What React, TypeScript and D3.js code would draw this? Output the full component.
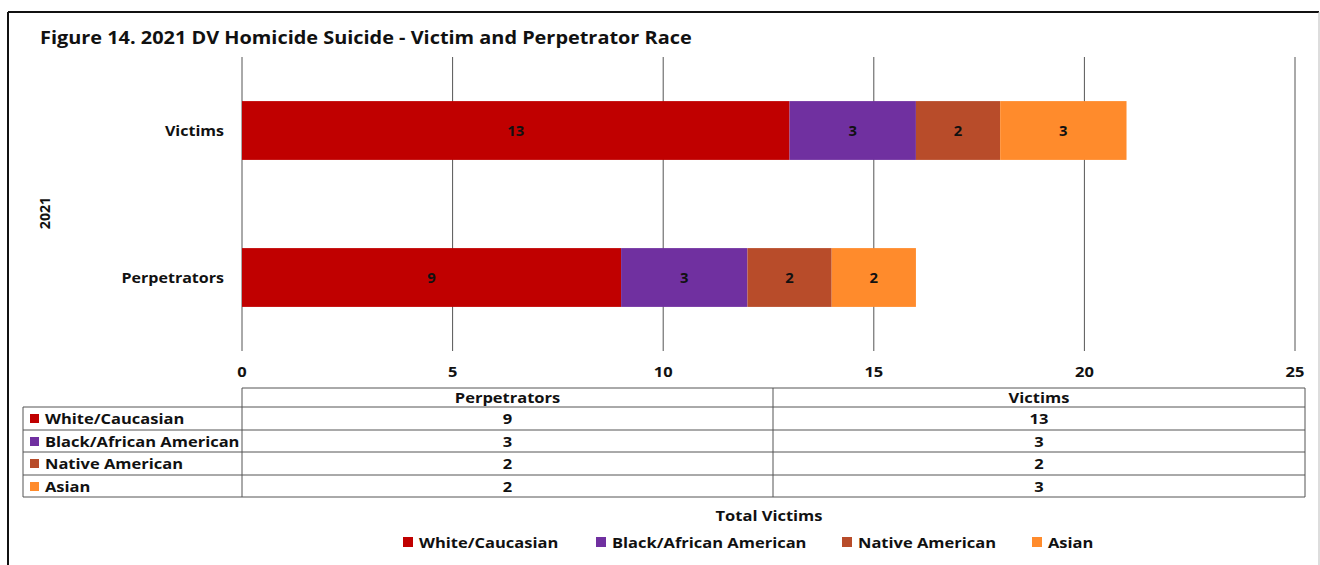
import React from "react";
import * as d3 from "d3";

const groups = ["Victims", "Perpetrators"];
const races = ["White/Caucasian", "Black/African American", "Native American", "Asian"];
const victims = [13, 3, 2, 3];
const perpetrators = [9, 3, 2, 2];
const colors = ["#C00000", "#7030A0", "#B84C2A", "#FF8B2C"];
const xTicks = [0, 5, 10, 15, 20, 25];
const tableCols = ["Perpetrators", "Victims"];

const FONT = "'Open Sans', sans-serif";

function Txt({ x, y, size = 15, sx = 1.1, anchor = "start", rotate = 0, children }: any) {
  return (
    <text
      transform={`translate(${x},${y}) rotate(${rotate}) scale(${sx},1)`}
      textAnchor={anchor}
      fontSize={size}
      fontWeight={700}
      fill="#111"
    >
      {children}
    </text>
  );
}

export default function App() {
  const W = 1320, H = 565;
  const x = d3.scaleLinear().domain([0, 25]).range([242, 1295]);
  const y = d3.scaleBand().domain(groups).range([57, 351]).paddingInner(0.6).paddingOuter(0.3);
  const plotTop = 57, plotBottom = 351;

  const seriesByGroup: Record<string, number[]> = { Victims: victims, Perpetrators: perpetrators };
  const stackData = groups.map((g) => {
    const o: any = { group: g };
    races.forEach((r, i) => (o[r] = seriesByGroup[g][i]));
    return o;
  });
  const stacked = d3.stack<any>().keys(races)(stackData);

  const rowY = [388, 407, 430, 452, 475, 497];
  const colX = [23, 242, 773, 1305];
  const tableValues = [perpetrators, victims];

  const legendX = [403, 596, 842, 1032];

  return (
    <svg width={W} height={H} style={{ display: "block", position: "absolute", left: 0, top: 0 }} fontFamily={FONT}>
      <rect x={0} y={0} width={W} height={H} fill="#fff" />
      {/* frame */}
      <line x1={8} y1={12} x2={1319} y2={12} stroke="#111" strokeWidth={2} />
      <line x1={8} y1={12} x2={8} y2={H} stroke="#111" strokeWidth={2} />
      <line x1={1319} y1={12} x2={1319} y2={H} stroke="#bbb" strokeWidth={1} />
      <Txt x={40} y={44} size={17} sx={1.17}>
        Figure 14. 2021 DV Homicide Suicide - Victim and Perpetrator Race
      </Txt>
      {/* gridlines */}
      {xTicks.map((t) => (
        <line key={t} x1={x(t)} x2={x(t)} y1={plotTop} y2={plotBottom} stroke="#555" strokeWidth={1} />
      ))}
      {/* bars */}
      {stacked.map((s, si) =>
        s.map((d, di) => {
          const g = groups[di];
          const x0 = x(d[0]), x1 = x(d[1]);
          const yy = y(g)!;
          return (
            <g key={`${si}-${di}`}>
              <rect x={x0} y={yy} width={x1 - x0} height={y.bandwidth()} fill={colors[si]} />
              <Txt x={(x0 + x1) / 2} y={yy + y.bandwidth() / 2 + 5} size={13.5} anchor="middle">
                {d[1] - d[0]}
              </Txt>
            </g>
          );
        })
      )}
      {/* category labels */}
      {groups.map((g) => (
        <Txt key={g} x={224} y={y(g)! + y.bandwidth() / 2 + 5} size={15} sx={1.07} anchor="end">
          {g}
        </Txt>
      ))}
      <Txt x={50} y={213} size={13.5} sx={1.05} rotate={-90} anchor="middle">
        2021
      </Txt>
      {/* x tick labels */}
      {xTicks.map((t) => (
        <Txt key={t} x={x(t)} y={377} size={15} anchor="middle">
          {t}
        </Txt>
      ))}
      {/* data table */}
      <g stroke="#555" strokeWidth={1} fill="none">
        <line x1={colX[1]} x2={colX[3]} y1={rowY[0]} y2={rowY[0]} />
        {rowY.slice(1).map((ry, i) => (
          <line key={i} x1={colX[0]} x2={colX[3]} y1={ry} y2={ry} />
        ))}
        <line x1={colX[0]} x2={colX[0]} y1={rowY[1]} y2={rowY[5]} />
        <line x1={colX[1]} x2={colX[1]} y1={rowY[0]} y2={rowY[5]} />
        <line x1={colX[2]} x2={colX[2]} y1={rowY[0]} y2={rowY[5]} />
        <line x1={colX[3]} x2={colX[3]} y1={rowY[0]} y2={rowY[5]} />
      </g>
      {tableCols.map((c, ci) => (
        <Txt key={c} x={(colX[ci + 1] + colX[ci + 2]) / 2} y={rowY[0] + 15} anchor="middle">
          {c}
        </Txt>
      ))}
      {races.map((r, ri) => (
        <g key={r}>
          <rect x={30} y={rowY[ri + 1] + 7} width={9} height={9} fill={colors[ri]} />
          <Txt x={45} y={rowY[ri + 1] + 16.5}>
            {r}
          </Txt>
          {tableCols.map((c, ci) => (
            <Txt key={c} x={(colX[ci + 1] + colX[ci + 2]) / 2} y={rowY[ri + 1] + 16.5} anchor="middle">
              {tableValues[ci][ri]}
            </Txt>
          ))}
        </g>
      ))}
      {/* legend */}
      <Txt x={769} y={521} anchor="middle">
        Total Victims
      </Txt>
      {races.map((r, ri) => (
        <g key={r}>
          <rect x={legendX[ri]} y={537} width={10} height={10} fill={colors[ri]} />
          <Txt x={legendX[ri] + 16} y={547.5}>
            {r}
          </Txt>
        </g>
      ))}
    </svg>
  );
}
